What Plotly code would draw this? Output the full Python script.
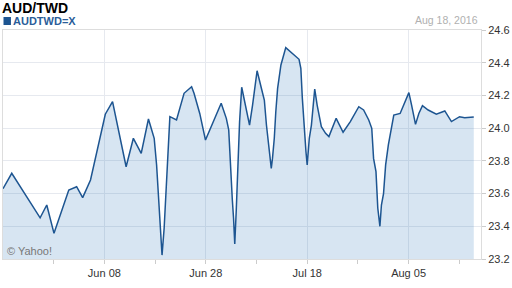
import plotly.graph_objects as go

# ---- data ----
times = [
    "2016-05-19 00:00", "2016-05-20 05:00", "2016-05-26 03:00", "2016-05-27 01:00",
    "2016-05-30 01:00", "2016-06-01 02:00", "2016-06-02 04:00", "2016-06-03 00:00",
    "2016-06-06 02:00", "2016-06-07 11:00", "2016-06-08 03:00", "2016-06-09 03:00",
    "2016-06-13 00:00", "2016-06-14 00:00", "2016-06-15 02:00", "2016-06-16 02:00",
    "2016-06-16 21:00", "2016-06-17 05:00", "2016-06-17 11:00", "2016-06-17 16:00",
    "2016-06-17 23:00", "2016-06-20 06:00", "2016-06-20 11:00", "2016-06-20 17:00",
    "2016-06-21 01:00", "2016-06-21 23:00", "2016-06-23 00:00", "2016-06-24 01:00",
    "2016-06-24 09:00", "2016-06-27 04:00", "2016-06-27 23:00", "2016-06-30 03:00",
    "2016-06-30 20:00", "2016-07-01 04:00", "2016-07-01 09:00", "2016-07-01 16:00",
    "2016-07-01 20:00", "2016-07-04 00:00", "2016-07-04 05:00", "2016-07-04 10:00",
    "2016-07-04 16:00", "2016-07-04 23:00", "2016-07-05 06:00", "2016-07-06 01:00",
    "2016-07-06 11:00", "2016-07-07 02:00", "2016-07-07 15:00", "2016-07-08 02:00",
    "2016-07-08 09:00", "2016-07-08 16:00", "2016-07-11 01:00", "2016-07-11 05:00",
    "2016-07-11 11:00", "2016-07-11 16:00", "2016-07-11 22:00", "2016-07-12 09:00",
    "2016-07-13 01:00", "2016-07-14 21:00", "2016-07-15 03:00", "2016-07-15 08:00",
    "2016-07-15 13:00", "2016-07-15 20:00", "2016-07-18 00:00", "2016-07-18 07:00",
    "2016-07-18 14:00", "2016-07-18 19:00", "2016-07-19 01:00", "2016-07-19 09:00",
    "2016-07-19 23:00", "2016-07-20 13:00", "2016-07-21 00:00", "2016-07-22 00:00",
    "2016-07-22 23:00", "2016-07-25 23:00", "2016-07-27 03:00", "2016-07-27 19:00",
    "2016-07-28 12:00", "2016-07-28 22:00", "2016-07-29 04:00", "2016-07-29 12:00",
    "2016-07-29 18:00", "2016-08-01 01:00", "2016-08-01 06:00", "2016-08-01 13:00",
    "2016-08-01 20:00", "2016-08-02 05:00", "2016-08-02 14:00", "2016-08-02 23:00",
    "2016-08-03 20:00", "2016-08-04 12:00", "2016-08-05 01:00", "2016-08-05 10:00",
    "2016-08-05 23:00", "2016-08-08 10:00", "2016-08-08 22:00", "2016-08-09 17:00",
    "2016-08-10 20:00", "2016-08-12 00:00", "2016-08-12 22:00", "2016-08-16 01:00",
    "2016-08-16 18:00", "2016-08-18 00:00",
]
rates = [
    23.630, 23.724, 23.452, 23.530,
    23.357, 23.622, 23.642, 23.575,
    23.683, 23.958, 24.085, 24.162,
    23.764, 23.938, 23.846, 24.056,
    23.938, 23.775, 23.581, 23.377,
    23.224, 23.388, 23.591, 23.805,
    24.070, 24.050, 24.213, 24.253,
    24.213, 24.090, 23.927, 24.152,
    24.060, 23.989, 23.775, 23.561,
    23.449, 23.292, 23.500, 23.775,
    24.040, 24.250, 24.192, 24.019,
    24.141, 24.351, 24.253, 24.172,
    24.019, 23.897, 23.754, 23.815,
    23.938, 24.100, 24.243, 24.386,
    24.492, 24.421, 24.366, 24.182,
    24.019, 23.856, 23.775, 23.938,
    24.019, 24.141, 24.239, 24.141,
    24.009, 23.968, 23.948, 24.060,
    23.975, 24.040, 24.131, 24.111,
    24.050, 23.999, 23.815, 23.734,
    23.510, 23.400, 23.530, 23.600,
    23.775, 23.897, 23.978, 24.080,
    24.090, 24.162, 24.217, 24.141,
    24.023, 24.090, 24.137, 24.111,
    24.085, 24.105, 24.040, 24.070,
    24.064, 24.068,
]
major_ticks = ["2016-06-08", "2016-06-28", "2016-07-18", "2016-08-05"]
major_labels = ["Jun 08", "Jun 28", "Jul 18", "Aug 05"]
minor_ticks = ["2016-05-30", "2016-06-17", "2016-07-07", "2016-07-27", "2016-08-16"]
y_ticks = [23.2, 23.4, 23.6, 23.8, 24.0, 24.2, 24.4, 24.6]
title_text = "AUD/TWD"
series_name = "AUDTWD=X"
date_text = "Aug 18, 2016"
credit_text = "© Yahoo!"

# ---- layout geometry (pixels) ----
W, H = 512, 288
L, R, T, B = 2, 29, 30, 29
PW, PH = W - L - R, H - T - B


def px(x):
    return (x - L) / PW


def py(y):
    return (H - B - y) / PH


FONT = "Liberation Sans, Arial, sans-serif"
LINE = "#1d5591"

fig = go.Figure()
fig.add_trace(go.Scatter(
    x=times, y=rates, mode="lines",
    line=dict(color=LINE, width=1.5),
    fill="tozeroy", fillcolor="rgba(30,110,180,0.175)",
    hoverinfo="skip", showlegend=False,
))

fig.update_layout(
    width=W, height=H,
    margin=dict(l=L, r=R, t=T, b=B, pad=0),
    paper_bgcolor="white", plot_bgcolor="white",
    font=dict(family=FONT, size=11, color="#333333"),
    xaxis=dict(
        type="date",
        range=["2016-05-19", "2016-08-19"],
        rangebreaks=[dict(bounds=["sat", "mon"])],
        tickmode="array", tickvals=major_ticks, ticktext=major_labels,
        ticks="outside", ticklen=4, tickcolor="#cccccc",
        showgrid=True, gridcolor="#e6e9ef", gridwidth=1,
        minor=dict(tickmode="array", tickvals=minor_ticks, ticks="outside",
                   ticklen=4, tickcolor="#cccccc", showgrid=False),
        showline=True, linecolor="#dddddd", mirror=True,
        zeroline=False, fixedrange=True,
        tickfont=dict(size=11, color="#333333"),
    ),
    yaxis=dict(
        range=[23.2, 24.6], side="right",
        tickmode="array", tickvals=y_ticks,
        ticktext=[f"{v:.1f}" for v in y_ticks],
        ticks="outside", ticklen=4, tickcolor="#cccccc",
        showgrid=True, gridcolor="#e6e9ef", gridwidth=1,
        showline=True, linecolor="#dddddd", mirror=True,
        zeroline=False, fixedrange=True,
        tickfont=dict(size=11, color="#333333"),
    ),
    shapes=[dict(type="rect", xref="paper", yref="paper",
                 x0=px(2.5), x1=px(10), y0=py(25), y1=py(17),
                 fillcolor=LINE, line=dict(width=0))],
    annotations=[
        dict(text=f"<b>{title_text}</b>", xref="paper", yref="paper",
             x=px(0), y=py(8.5), xanchor="left", yanchor="middle",
             showarrow=False, borderpad=0,
             font=dict(size=14, color="#000000", family=FONT)),
        dict(text=f"<b>{series_name}</b>", xref="paper", yref="paper",
             x=px(11.5), y=py(21), xanchor="left", yanchor="middle",
             showarrow=False, borderpad=0,
             font=dict(size=11, color="#2a5d99", family=FONT)),
        dict(text=date_text, xref="paper", yref="paper",
             x=px(481), y=py(20), xanchor="right", yanchor="middle",
             showarrow=False, borderpad=0,
             font=dict(size=10.5, color="#b0b0b0", family=FONT)),
        dict(text=credit_text, xref="paper", yref="paper",
             x=px(5.5), y=py(250.5), xanchor="left", yanchor="middle",
             showarrow=False, borderpad=0,
             font=dict(size=11, color="#777777", family=FONT)),
    ],
)

fig.write_html("out.html")
